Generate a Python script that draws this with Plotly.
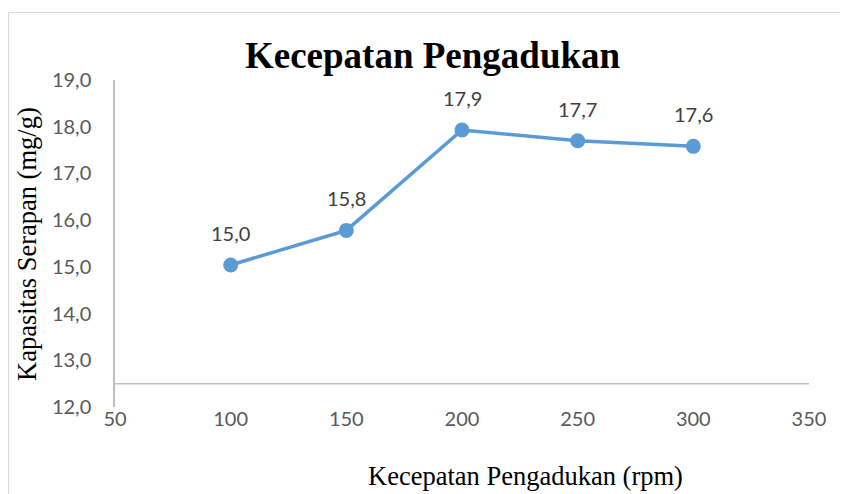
import plotly.graph_objects as go

speed = [100, 150, 200, 250, 300]
capacity = [15.04, 15.78, 17.93, 17.70, 17.58]
labels = ["15,0", "15,8", "17,9", "17,7", "17,6"]
x_ticks = [50, 100, 150, 200, 250, 300, 350]
y_ticks = [12, 13, 14, 15, 16, 17, 18, 19]
y_tick_text = ["12,0", "13,0", "14,0", "15,0", "16,0", "17,0", "18,0", "19,0"]

W, H = 840, 486
L, T, R, B = 107, 72, 39, 87
PW, PH = W - L - R, H - T - B

tick_font = dict(family="Lato, Open Sans, sans-serif", size=20, color="#595959")
serif = "Liberation Serif, Times New Roman, serif"

fig = go.Figure()
fig.add_trace(go.Scatter(
    x=speed, y=capacity, mode="lines+markers",
    line=dict(color="#5B9BD5", width=3.5),
    marker=dict(color="#5B9BD5", size=15),
    hoverinfo="skip", cliponaxis=False,
))

for xv, yv, t in zip(speed, capacity, labels):
    fig.add_annotation(x=xv, y=yv, text=t, showarrow=False, yshift=32,
                       xanchor="center", yanchor="middle",
                       font=dict(family="Lato, Open Sans, sans-serif", size=20, color="#404040"))

fig.add_shape(type="line", xref="x", yref="y", x0=50, x1=350, y0=12.5, y1=12.5,
              line=dict(color="#BFBFBF", width=1.5), layer="below")

fig.add_shape(type="rect", xref="paper", yref="paper",
              x0=(0.5 - L) / PW, x1=(W + 20 - L) / PW,
              y0=1 + (T - 4.5) / PH, y1=-(B + 20) / PH,
              line=dict(color="#D9D9D9", width=1.2), layer="below")

fig.add_annotation(text="<b>Kecepatan Pengadukan</b>", xref="paper", yref="paper",
                   x=(425 - L) / PW, y=1 + (T - 47) / PH, showarrow=False,
                   xanchor="center", yanchor="middle",
                   font=dict(family=serif, size=37, color="#000000"))
fig.add_annotation(text="Kecepatan Pengadukan (rpm)", xref="paper", yref="paper",
                   x=(517 - L) / PW, y=-(468 - (T + PH)) / PH, showarrow=False,
                   xanchor="center", yanchor="middle",
                   font=dict(family=serif, size=26.5, color="#000000"))
fig.add_annotation(text="Kapasitas Serapan (mg/g)", xref="paper", yref="paper",
                   x=-(L - 19) / PW, y=((T + PH) - 236) / PH, showarrow=False, textangle=-90,
                   xanchor="center", yanchor="middle",
                   font=dict(family=serif, size=26.5, color="#000000"))

fig.update_layout(
    width=W, height=H,
    margin=dict(l=L, r=R, t=T, b=B),
    paper_bgcolor="white", plot_bgcolor="white",
    showlegend=False,
    xaxis=dict(range=[50, 350], tickvals=x_ticks, ticktext=[str(v) for v in x_ticks],
               showgrid=False, zeroline=False, showline=False, tickfont=tick_font,
               ticks="", ticklabelstandoff=-2),
    yaxis=dict(range=[12, 19], tickvals=y_ticks, ticktext=y_tick_text,
               showgrid=False, zeroline=False, showline=True, linecolor="#BFBFBF", linewidth=1.5,
               tickfont=tick_font, ticks="", ticklabelstandoff=18),
)

fig.write_html("out.html")
